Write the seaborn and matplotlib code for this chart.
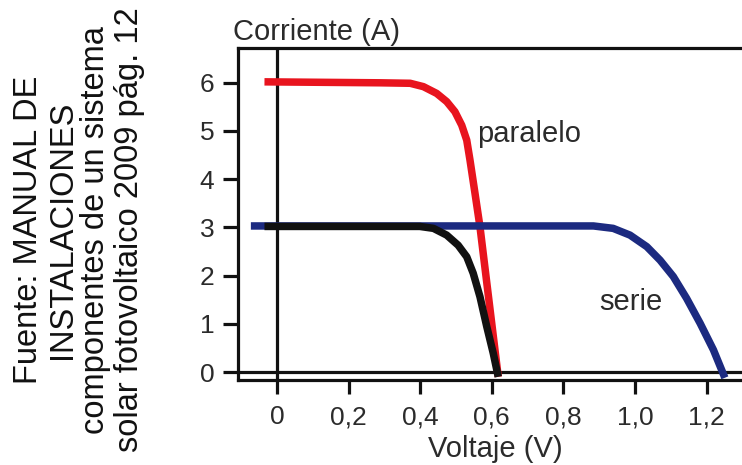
import numpy as np
import pandas as pd
import matplotlib
matplotlib.use("Agg")
import matplotlib.pyplot as plt
import seaborn as sns

# ---- data ----
par_v = [-0.035, 0.288, 0.372, 0.409, 0.446, 0.474, 0.497, 0.516, 0.530,
         0.539, 0.553, 0.567, 0.618]
par_i = [6.02, 6.00, 5.99, 5.92, 5.78, 5.61, 5.40, 5.12, 4.81,
         4.40, 3.71, 3.01, -0.10]

cel_v = [-0.035, 0.288, 0.399, 0.437, 0.474, 0.506, 0.530, 0.548, 0.567,
         0.586, 0.604, 0.618]
cel_i = [3.02, 3.02, 3.02, 2.98, 2.84, 2.63, 2.39, 2.05, 1.56,
         0.94, 0.39, -0.10]

ser_v = [-0.073, 0.791, 0.884, 0.939, 0.986, 1.033, 1.070, 1.107, 1.144,
         1.182, 1.219, 1.251]
ser_i = [3.03, 3.03, 3.03, 2.98, 2.84, 2.60, 2.32, 1.98, 1.53,
         1.01, 0.46, -0.12]

x_ticks = [0, 0.2, 0.4, 0.6, 0.8, 1.0, 1.2]
x_ticklabels = ["0", "0,2", "0,4", "0,6", "0,8", "1,0", "1,2"]
y_ticks = [0, 1, 2, 3, 4, 5, 6]

label_par = "paralelo"
label_ser = "serie"
x_label = "Voltaje (V)"
y_label = "Corriente (A)"
source = "Fuente: MANUAL DE\nINSTALACIONES\ncomponentes de un sistema\nsolar fotovoltaico 2009 pág. 12"

# ---- style ----
sns.set_style("white")
plt.rcParams["font.family"] = ["Liberation Sans", "DejaVu Sans"]

RED = "#e8141e"
BLACK = "#111111"
BLUE = "#1c2a80"
TXT = "#2b2b2b"

W, H = 742, 465
fig = plt.figure(figsize=(W / 100, H / 100), dpi=100)
# axes frame in pixels: left 238, top 48, bottom 380, right beyond the image
L, T, B, R = 238, 48, 380, 760
ax = fig.add_axes([L / W, (H - B) / H, (R - L) / W, (B - T) / H])

x0_px, xs = 277, 358.0
y0_px, ys = 372, 48.2
ax.set_xlim((L - x0_px) / xs, (R - x0_px) / xs)
ax.set_ylim((y0_px - B) / ys, (y0_px - T) / ys)

lw = 5.4
df_p = pd.DataFrame({"v": par_v, "i": par_i})
df_s = pd.DataFrame({"v": ser_v, "i": ser_i})
df_c = pd.DataFrame({"v": cel_v, "i": cel_i})
sns.lineplot(data=df_p, x="v", y="i", ax=ax, color=RED, linewidth=lw,
             sort=False, estimator=None, solid_capstyle="butt",
             solid_joinstyle="round", zorder=3)
sns.lineplot(data=df_s, x="v", y="i", ax=ax, color=BLUE, linewidth=lw,
             sort=False, estimator=None, solid_capstyle="butt",
             solid_joinstyle="round", zorder=4)
sns.lineplot(data=df_c, x="v", y="i", ax=ax, color=BLACK, linewidth=lw,
             sort=False, estimator=None, solid_capstyle="butt",
             solid_joinstyle="round", zorder=5)

# zero lines
ax.axhline(0, color=BLACK, linewidth=2.3, zorder=2)
ax.axvline(0, color=BLACK, linewidth=2.3, zorder=2)

for side in ["left", "top", "bottom"]:
    ax.spines[side].set_visible(True)
    ax.spines[side].set_color(BLACK)
    ax.spines[side].set_linewidth(2.3)
ax.spines["right"].set_visible(False)

ax.set_xticks(x_ticks)
ax.set_xticklabels(x_ticklabels)
ax.set_yticks(y_ticks)
ax.tick_params(axis="y", direction="out", length=11, width=2.3, color=BLACK,
               labelsize=19, labelcolor=TXT, pad=6, left=True)
ax.tick_params(axis="x", direction="out", length=10, width=2.3, color=BLACK,
               labelsize=19, labelcolor=TXT, pad=8, bottom=True)
ax.set_xlabel("")
ax.set_ylabel("")
ax.grid(False)

ax.text(0.56, 4.78, label_par, fontsize=21, color=TXT, va="baseline", ha="left")
ax.text(0.899, 1.29, label_ser, fontsize=21, color=TXT, va="baseline", ha="left")

fig.text(233 / W, 1 - 40 / H, y_label, fontsize=21, color=TXT,
         ha="left", va="baseline")
fig.text(495 / W, 1 - 457 / H, x_label, fontsize=21, color=TXT,
         ha="center", va="baseline")
fig.text(79 / W, 1 - 230 / H, source, fontsize=23.5, color=BLACK, rotation=90,
         ha="center", va="center", multialignment="center", linespacing=1.12)

fig.savefig("out.png", dpi=100)
